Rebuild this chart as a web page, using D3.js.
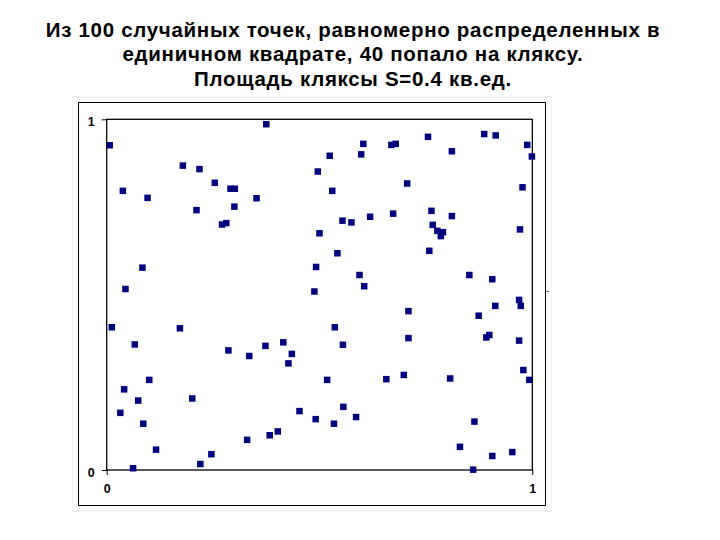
<!DOCTYPE html>
<html>
<head>
<meta charset="utf-8">
<script src="https://cdn.jsdelivr.net/npm/d3@7"></script>
<style>
  body { margin: 0; background: #fff; }
  svg { display: block; }
</style>
</head>
<body>
<svg id="chart"></svg>
<script>
const W = 720, H = 540;

const titleLines = [
    "Из 100 случайных точек, равномерно распределенных в",
    "единичном квадрате, 40 попало на кляксу.",
    "Площадь кляксы S=0.4 кв.ед."
];

const xTicks = [0, 1];
const yTicks = [0, 1];

// точки
const xs = [
    0.375, 0.007, 0.179, 0.218, 0.254, 0.291, 0.301, 0.038, 0.096, 0.352,
    0.300, 0.211, 0.496, 0.271, 0.281, 0.500, 0.084, 0.492, 0.044, 0.488,
    0.755, 0.887, 0.914, 0.603, 0.669, 0.679, 0.988, 0.524, 0.598, 0.811,
    0.999, 0.706, 0.530, 0.977, 0.763, 0.811, 0.673, 0.619, 0.554, 0.575,
    0.766, 0.777, 0.790, 0.785, 0.971, 0.542, 0.758, 0.594, 0.852, 0.906,
    0.605, 0.969, 0.973, 0.913, 0.874, 0.709, 0.536, 0.555, 0.709, 0.892,
    0.899, 0.969, 0.518, 0.657, 0.698, 0.807, 0.979, 0.993, 0.453, 0.556,
    0.491, 0.586, 0.534, 0.864, 0.830, 0.906, 0.953, 0.861, 0.012, 0.172,
    0.066, 0.286, 0.335, 0.373, 0.415, 0.435, 0.427, 0.100, 0.041, 0.074,
    0.201, 0.032, 0.086, 0.116, 0.330, 0.383, 0.402, 0.246, 0.220, 0.062
];
const ys = [
    0.986, 0.926, 0.868, 0.858, 0.819, 0.802, 0.802, 0.796, 0.776, 0.775,
    0.751, 0.741, 0.851, 0.700, 0.704, 0.675, 0.577, 0.579, 0.516, 0.509,
    0.950, 0.958, 0.954, 0.930, 0.927, 0.930, 0.927, 0.896, 0.900, 0.909,
    0.894, 0.817, 0.796, 0.806, 0.739, 0.724, 0.731, 0.722, 0.711, 0.706,
    0.699, 0.682, 0.678, 0.667, 0.686, 0.618, 0.625, 0.556, 0.556, 0.544,
    0.524, 0.485, 0.468, 0.468, 0.440, 0.453, 0.407, 0.357, 0.376, 0.378,
    0.385, 0.369, 0.257, 0.259, 0.271, 0.261, 0.285, 0.257, 0.168, 0.180,
    0.145, 0.151, 0.132, 0.138, 0.066, 0.040, 0.051, 0.001, 0.407, 0.404,
    0.358, 0.341, 0.325, 0.354, 0.364, 0.331, 0.304, 0.257, 0.230, 0.198,
    0.204, 0.163, 0.132, 0.058, 0.086, 0.099, 0.110, 0.045, 0.017, 0.005
];

const points = xs.map((x, i) => ({ x, y: ys[i] }));

const svg = d3.select("#chart").attr("width", W).attr("height", H);

svg.append("rect")
    .attr("width", W).attr("height", H)
    .attr("fill", "#fff");

// рамки области диаграммы
svg.append("rect")
    .attr("x", 72.5).attr("y", 96.5)
    .attr("width", 479).attr("height", 415)
    .attr("fill", "none")
    .attr("stroke", "#f0f0f0");

svg.append("rect")
    .attr("x", 78.5).attr("y", 102.5)
    .attr("width", 467).attr("height", 403)
    .attr("fill", "none")
    .attr("stroke", "#000");

svg.append("line")
    .attr("x1", 545.5).attr("x2", 549)
    .attr("y1", 291.5).attr("y2", 291.5)
    .attr("stroke", "#666");

// заголовок
svg.append("g")
    .selectAll("text")
    .data(titleLines)
    .enter()
    .append("text")
    .attr("x", 353)
    .attr("y", (d, i) => 36.7 + i * 24.7)
    .attr("text-anchor", "middle")
    .attr("font-family", "Liberation Sans, Arial, sans-serif")
    .attr("font-weight", "bold")
    .attr("font-size", "20.5px")
    .attr("letter-spacing", "0.7px")
    .attr("fill", "#000")
    .text((d) => d);

const x = d3.scaleLinear().domain([0, 1]).range([106.7, 532.3]);
const y = d3.scaleLinear().domain([0, 1]).range([470, 119.3]);

svg.append("rect")
    .attr("x", x(0)).attr("y", y(1))
    .attr("width", x(1) - x(0)).attr("height", y(0) - y(1))
    .attr("fill", "none")
    .attr("stroke", "#000")
    .attr("stroke-width", 1.3);

const xAxis = svg.append("g")
    .attr("transform", `translate(0,${y(0)})`)
    .call(d3.axisBottom(x).tickValues(xTicks).tickFormat(d3.format("d"))
        .tickSize(5).tickSizeOuter(0).tickPadding(9));

const yAxis = svg.append("g")
    .attr("transform", `translate(${x(0)},0)`)
    .call(d3.axisLeft(y).tickValues(yTicks).tickFormat(d3.format("d"))
        .tickSize(5).tickSizeOuter(0).tickPadding(7));

[xAxis, yAxis].forEach((g) => {
    g.select(".domain").remove();
    g.selectAll(".tick line").attr("stroke", "#000");
    g.selectAll(".tick text")
        .attr("fill", "#000")
        .attr("font-family", "Liberation Sans, Arial, sans-serif")
        .attr("font-weight", "bold")
        .attr("font-size", "12.5px");
});
yAxis.selectAll(".tick text").attr("dy", "0.5em");

const s = 6.5;
svg.append("g")
    .selectAll("rect")
    .data(points)
    .enter()
    .append("rect")
    .attr("x", (d) => x(d.x) - s / 2)
    .attr("y", (d) => y(d.y) - s / 2)
    .attr("width", s)
    .attr("height", s)
    .attr("fill", "#000080");
</script>
</body>
</html>
